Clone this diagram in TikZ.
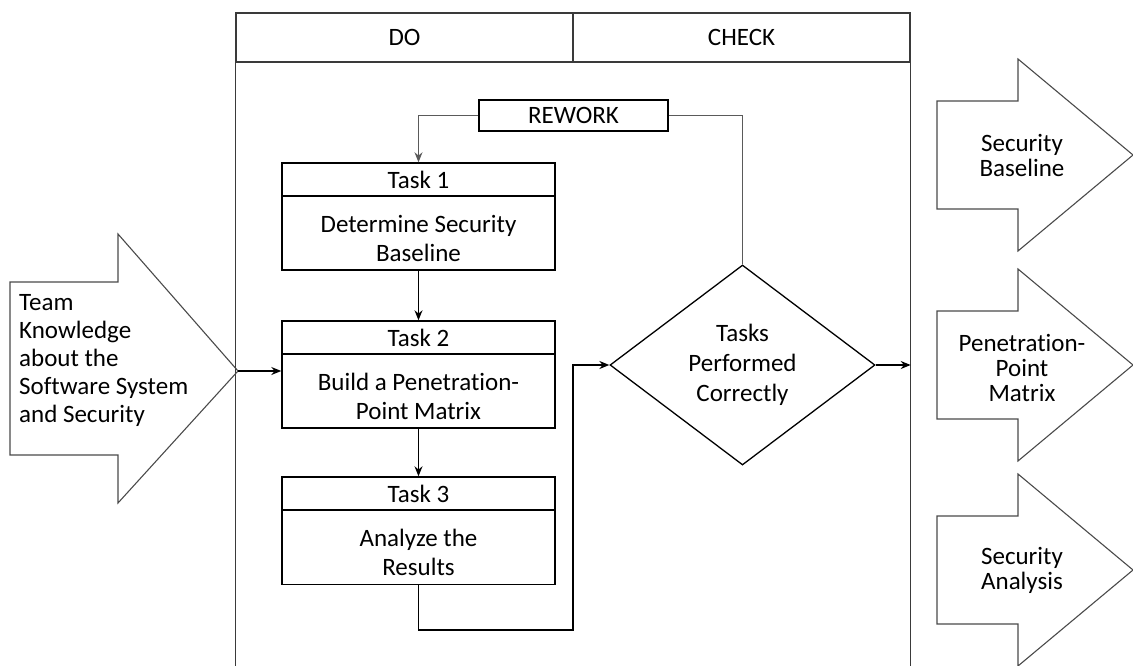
\documentclass[tikz,border=0pt]{standalone}
\usepackage{fontspec}
\setmainfont{Carlito}[Ligatures=NoCommon]
\usetikzlibrary{shapes.geometric,arrows.meta,calc}

\definecolor{framegray}{HTML}{3A3A3A}
\definecolor{loopgray}{HTML}{5A5A5A}
\definecolor{shapegray}{HTML}{4A4A4A}

% tall strut that lowers two-line task texts inside their boxes
\newcommand{\topstrut}{\rule{0pt}{28bp}}

\tikzset{
  txt/.style={font=\fontsize{25bp}{28bp}\selectfont, align=center, inner sep=0pt},
  cell/.style={txt, draw=framegray, line width=1.4bp, minimum width=337bp, minimum height=49bp},
  taskhead/.style={txt, draw=black, line width=1.4bp, minimum width=273bp, minimum height=33bp},
  taskbody/.style={txt, font=\fontsize{25bp}{29bp}\selectfont, draw=black, line width=1.4bp, minimum width=273bp, minimum height=74bp},
  reworkbox/.style={txt, draw=black, line width=1.4bp, minimum width=189bp, minimum height=31bp},
  decision/.style={txt, font=\fontsize{25bp}{30bp}\selectfont, diamond, draw=black, line width=1.3bp, minimum width=265bp, minimum height=200bp},
  flow/.style={line width=1.3bp, -{Stealth[length=10bp,width=8bp]}},
  loopline/.style={draw=loopgray, line width=1.2bp},
  shapeline/.style={draw=shapegray, line width=1.1bp, line join=miter},
  outtxt/.style={txt, font=\fontsize{25bp}{25bp}\selectfont},
  outshape/.pic={
    \draw[shapeline] (-86,-54) -- (-5,-54) -- (-5,-96) -- (110,0)
      -- (-5,96) -- (-5,54) -- (-86,54) -- cycle;
  }
}

\begin{document}
\begin{tikzpicture}[x=1bp,y=-1bp]
\useasboundingbox (0,0) rectangle (1133,666);

% phase frame with DO / CHECK header
\node[cell] (do) at (404.5,37.5) {DO};
\node[cell] (check) at (741.5,37.5) {CHECK};
\draw[framegray, line width=1.4bp] (do.south west) -- (do.south west |- 0,666);
\draw[framegray, line width=1.4bp] (check.south east) -- (check.south east |- 0,666);

% input arrow
\draw[shapeline] (10,282) -- (118,282) -- (118,234) -- (238,371)
  -- (118,503) -- (118,455) -- (10,455) -- cycle;
\coordinate (inTip) at (238,371);
\node[txt, align=left, anchor=west] (input) at (19,360)
  {Team\\Knowledge\\about the\\Software System\\and Security};

% tasks
\node[taskhead] (t1h) at (418.5,179.5) {Task 1};
\node[taskbody] (t1b) at (418.5,233) {\topstrut Determine Security\\Baseline};
\node[taskhead] (t2h) at (418.5,337.5) {Task 2};
\node[taskbody] (t2b) at (418.5,391) {\topstrut Build a Penetration-\\Point Matrix};
\node[taskhead] (t3h) at (418.5,493.5) {Task 3};
\node[taskbody] (t3b) at (418.5,547.5) {\topstrut Analyze the\\Results};

% check
\node[decision] (dia) at (742.5,365) {Tasks\\Performed\\Correctly};
\node[reworkbox] (rw) at (573.5,115.5) {REWORK};

% connectors
\draw[flow] (inTip) -- (inTip -| t2b.west);
\draw[flow] (t1b.south) -- (t2h.north);
\draw[flow] (t2b.south) -- (t3h.north);
\coordinate (loopCorner) at (573,630);
\draw[flow] (t3b.south) |- (loopCorner) |- (dia.west);
\coordinate (frameRight) at (check.south east |- dia.east);
\draw[flow] (dia.east) -- (frameRight);
\draw[loopline] (dia.north) |- (rw.east);
\draw[loopline, -{Stealth[length=10bp,width=8bp]}] (rw.west) -| (t1h.north);

% outputs
\pic at (1023,155) {outshape};
\node[outtxt] (out1) at (1022,155.5) {Security\\Baseline};
\pic at (1023,365) {outshape};
\node[outtxt] (out2) at (1022,368) {Penetration-\\Point\\Matrix};
\pic at (1023,570) {outshape};
\node[outtxt] (out3) at (1022,570) {Security\\Analysis};
\end{tikzpicture}
\end{document}
